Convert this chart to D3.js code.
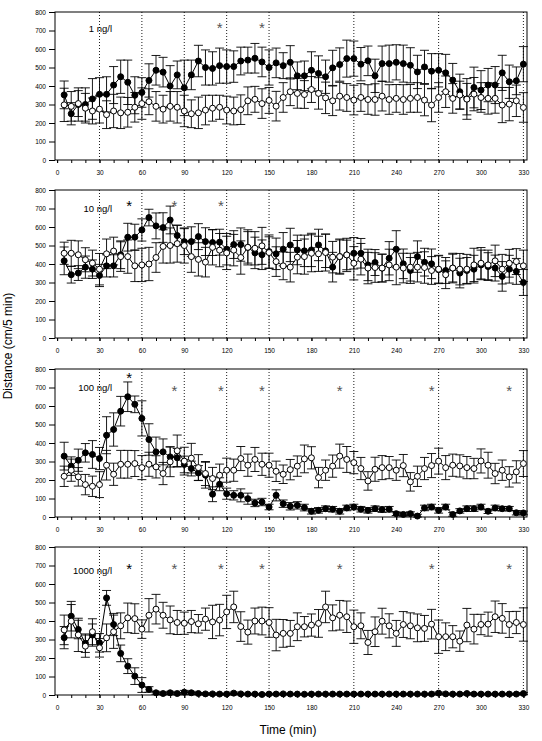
<!DOCTYPE html>
<html>
<head>
<meta charset="utf-8">
<script src="https://cdn.jsdelivr.net/npm/d3@7"></script>
<style>
  body { margin: 0; background: #fff; }
  svg { display: block; font-family: "Liberation Sans", Arial, sans-serif; }
</style>
</head>
<body>
<div class="chart-area"></div>
<script>
// sampling times (min)
const times = [
  5, 10, 15, 20, 25, 30, 35, 40, 45, 50, 55, 60, 65, 70, 75, 80, 85, 90,
  95, 100, 105, 110, 115, 120, 125, 130, 135, 140, 145, 150, 155, 160, 165, 170,
  175, 180, 185, 190, 195, 200, 205, 210, 215, 220, 225, 230, 235, 240, 245, 250,
  255, 260, 265, 270, 275, 280, 285, 290, 295, 300, 305, 310, 315, 320, 325, 330
];

const majorTicks = [0, 30, 60, 90, 120, 150, 180, 210, 240, 270, 300, 330];
const yTicks = [0, 100, 200, 300, 400, 500, 600, 700, 800];
const dottedLines = [30, 60, 90, 120, 150, 210, 270, 330];

const doseLabels = ["1 ng/l", "10 ng/l", "100 ng/l", "1000 ng/l"];
const doseLabelY = [710, 700, 700, 670];

// exposed fish (filled circles), mean and error
const p1T = [352, 250, 300, 300, 330, 355, 355, 405, 450, 420, 350, 365, 430, 485, 475, 400, 460, 390,
  460, 535, 500, 495, 510, 505, 505, 535, 540, 550, 530, 500, 525, 510, 528, 455, 455, 485,
  468, 450, 498, 516, 548, 548, 518, 536, 455, 521, 521, 528, 521, 512, 476, 503, 480, 485,
  471, 432, 369, 330, 392, 378, 405, 405, 471, 423, 428, 518];
const p1TErr = [75, 60, 90, 90, 110, 90, 95, 100, 90, 120, 100, 80, 90, 80, 80, 110, 75, 150,
  80, 85, 95, 90, 95, 90, 85, 75, 70, 80, 80, 95, 80, 70, 90, 75, 80, 100,
  95, 90, 95, 90, 100, 95, 90, 80, 90, 95, 100, 95, 100, 95, 90, 90, 95, 90,
  100, 90, 95, 110, 110, 105, 90, 100, 95, 90, 75, 95];
const p1C = [298, 290, 305, 280, 265, 275, 245, 265, 255, 258, 285, 305, 315, 290, 275, 290, 285, 265,
  250, 255, 270, 280, 285, 270, 265, 272, 320, 328, 305, 322, 291, 338, 369, 360, 354, 381,
  360, 336, 320, 345, 338, 324, 338, 327, 327, 345, 327, 333, 327, 333, 338, 324, 297, 338,
  369, 333, 351, 329, 356, 338, 333, 333, 297, 302, 320, 284];
const p1CErr = [90, 80, 70, 80, 70, 75, 75, 90, 85, 80, 80, 85, 70, 80, 75, 80, 85, 85,
  75, 85, 80, 70, 65, 75, 75, 80, 75, 70, 80, 70, 80, 80, 75, 80, 75, 70,
  85, 85, 80, 75, 75, 80, 75, 80, 85, 80, 80, 75, 80, 75, 80, 85, 90, 80,
  85, 80, 75, 85, 90, 80, 85, 80, 95, 90, 85, 80];

const p2T = [417, 342, 351, 383, 372, 338, 390, 390, 450, 545, 545, 584, 651, 606, 597, 638, 554, 521,
  521, 548, 521, 516, 518, 480, 505, 505, 490, 460, 450, 467, 455, 480, 503, 476, 471, 476,
  503, 471, 383, 440, 449, 458, 458, 395, 408, 378, 431, 480, 401, 365, 440, 410, 401, 369,
  365, 378, 351, 365, 372, 395, 386, 378, 333, 372, 360, 300];
const p2TErr = [75, 45, 40, 60, 50, 60, 60, 60, 75, 75, 70, 60, 45, 70, 80, 75, 55, 70,
  80, 70, 75, 70, 70, 85, 75, 90, 85, 85, 80, 90, 85, 90, 90, 80, 85, 90,
  85, 90, 80, 90, 80, 85, 80, 85, 70, 75, 90, 100, 80, 70, 85, 75, 80, 75,
  70, 75, 80, 70, 75, 80, 75, 70, 80, 75, 70, 70];
const p2C = [458, 458, 450, 423, 405, 372, 455, 470, 440, 440, 390, 395, 400, 435, 495, 500, 510, 500,
  440, 425, 410, 490, 475, 460, 475, 435, 490, 485, 498, 462, 413, 390, 383, 437, 440, 458,
  455, 462, 437, 440, 449, 404, 426, 378, 381, 378, 395, 383, 378, 383, 383, 381, 365, 372,
  342, 378, 372, 372, 395, 404, 395, 417, 372, 404, 413, 390];
const p2CErr = [60, 70, 75, 65, 70, 85, 80, 75, 80, 90, 85, 90, 90, 80, 90, 95, 100, 95,
  85, 90, 80, 95, 90, 90, 85, 90, 95, 90, 100, 85, 80, 75, 80, 90, 95, 100,
  95, 100, 85, 95, 90, 90, 85, 85, 80, 75, 85, 95, 80, 75, 80, 85, 75, 75,
  75, 80, 85, 80, 90, 85, 80, 85, 80, 75, 70, 85];

const p3T = [329, 275, 307, 347, 338, 316, 442, 473, 572, 650, 609, 533, 419, 352, 352, 325, 320, 284,
  262, 238, 226, 123, 177, 126, 117, 117, 99, 76, 81, 54, 117, 72, 58, 63, 51, 31,
  36, 45, 42, 31, 49, 54, 42, 36, 45, 40, 42, 18, 14, 18, 5, 49, 54, 36,
  54, 14, 33, 45, 45, 54, 31, 49, 45, 45, 23, 22];
const p3TErr = [75, 50, 60, 50, 75, 60, 100, 90, 80, 80, 45, 95, 85, 80, 70, 55, 50, 45,
  40, 40, 70, 40, 35, 30, 25, 35, 30, 20, 20, 15, 30, 20, 20, 20, 18, 15,
  15, 15, 15, 15, 15, 15, 15, 15, 15, 15, 15, 10, 10, 10, 10, 15, 15, 15,
  15, 10, 12, 15, 15, 15, 12, 15, 12, 12, 12, 10];
const p3C = [220, 253, 217, 175, 166, 175, 280, 231, 285, 285, 289, 267, 285, 271, 235, 298, 358, 302,
  318, 267, 235, 208, 226, 253, 253, 316, 280, 311, 285, 280, 247, 231, 256, 275, 314, 320,
  213, 253, 275, 329, 311, 294, 262, 195, 258, 267, 267, 253, 278, 190, 220, 262, 278, 302,
  267, 280, 276, 267, 262, 303, 280, 235, 253, 217, 244, 289];
const p3CErr = [55, 60, 50, 55, 55, 70, 80, 60, 75, 75, 70, 65, 65, 60, 60, 80, 85, 75,
  80, 70, 65, 60, 60, 65, 60, 65, 60, 65, 60, 65, 55, 50, 55, 55, 75, 60,
  55, 55, 60, 65, 70, 60, 60, 50, 65, 65, 60, 55, 60, 50, 55, 60, 65, 70,
  65, 60, 60, 60, 55, 65, 70, 55, 55, 55, 60, 70];

const p4T = [310, 426, 354, 280, 324, 282, 525, 381, 225, 156, 102, 54, 30, 12, 8, 12, 8, 15,
  12, 8, 6, 6, 5, 5, 10, 6, 5, 5, 3, 5, 5, 6, 5, 5, 4, 5,
  5, 5, 5, 5, 5, 5, 5, 5, 5, 5, 5, 5, 5, 5, 5, 5, 5, 10,
  6, 5, 5, 8, 5, 5, 5, 5, 5, 5, 5, 8];
const p4TErr = [60, 80, 50, 50, 60, 50, 40, 60, 45, 40, 45, 40, 15, 8, 6, 8, 6, 10,
  8, 5, 5, 5, 4, 4, 6, 4, 4, 4, 3, 4, 4, 4, 4, 3, 4, 4,
  4, 4, 3, 4, 4, 4, 4, 3, 4, 4, 4, 3, 4, 4, 3, 4, 4, 6,
  4, 4, 3, 5, 4, 4, 4, 4, 3, 4, 4, 5];
const p4C = [352, 399, 325, 264, 342, 255, 309, 342, 374, 417, 413, 356, 431, 464, 431, 406, 392, 388,
  397, 385, 410, 395, 405, 449, 476, 370, 340, 400, 400, 392, 324, 333, 333, 369, 369, 378,
  387, 476, 417, 431, 423, 369, 374, 284, 342, 399, 374, 333, 381, 374, 363, 360, 383, 315,
  315, 315, 291, 378, 356, 381, 383, 423, 414, 381, 392, 381];
const p4CErr = [80, 90, 90, 60, 70, 50, 75, 90, 70, 80, 80, 50, 90, 80, 70, 75, 65, 60,
  60, 50, 60, 90, 85, 90, 85, 80, 65, 70, 75, 80, 85, 75, 70, 75, 55, 60,
  75, 85, 70, 80, 85, 90, 70, 65, 80, 70, 65, 70, 70, 70, 75, 70, 80, 90,
  75, 60, 55, 90, 80, 55, 65, 85, 80, 70, 60, 90];

// significance asterisks: time and height per panel
const p1Stars = [[115, 730], [145, 730]];
const p2Stars = [[51, 728], [83, 728], [116, 728]];
const p3Stars = [[51, 765], [83, 695], [116, 695], [145, 695], [200, 695], [265, 695], [320, 695]];
const p4Stars = [[51, 700], [83, 700], [116, 700], [145, 700], [200, 700], [265, 700], [320, 700]];

const panels = [
  { label: doseLabels[0], labelY: doseLabelY[0], treat: p1T, treatErr: p1TErr, ctrl: p1C, ctrlErr: p1CErr, stars: p1Stars },
  { label: doseLabels[1], labelY: doseLabelY[1], treat: p2T, treatErr: p2TErr, ctrl: p2C, ctrlErr: p2CErr, stars: p2Stars },
  { label: doseLabels[2], labelY: doseLabelY[2], treat: p3T, treatErr: p3TErr, ctrl: p3C, ctrlErr: p3CErr, stars: p3Stars },
  { label: doseLabels[3], labelY: doseLabelY[3], treat: p4T, treatErr: p4TErr, ctrl: p4C, ctrlErr: p4CErr, stars: p4Stars }
];

const width = 542, height = 741;
const panelTops = [12, 190, 369, 547],
  panelH = 148,
  boxLeft = 55,
  boxRight = 527,
  capW = 4.5,
  r = 3;

const svg = d3.select(".chart-area")
  .append("svg")
  .attr("width", width)
  .attr("height", height);

const x = d3.scaleLinear().domain([0, 330]).range([57.1, 523.4]);

panels.forEach((p, i) => {
  const top = panelTops[i];
  const y = d3.scaleLinear().domain([0, 800]).range([top + panelH, top]);
  const g = svg.append("g");

  // axes
  g.append("g")
    .attr("transform", `translate(0,${top + panelH})`)
    .call(d3.axisBottom(x).tickValues(d3.range(0, 331, 10)).tickSize(3).tickFormat(""))
    .call(a => a.select(".domain").remove());
  g.append("g")
    .attr("transform", `translate(0,${top + panelH})`)
    .call(d3.axisBottom(x).tickValues(majorTicks).tickSize(3).tickPadding(7))
    .call(a => a.select(".domain").remove())
    .selectAll("text").attr("font-size", 6.5).attr("font-family", "Liberation Sans, Arial, sans-serif");
  g.append("g")
    .attr("transform", `translate(${boxLeft},0)`)
    .call(d3.axisLeft(y).tickValues(yTicks).tickSize(6).tickPadding(3))
    .call(a => a.select(".domain").remove())
    .selectAll("text").attr("font-size", 6.5).attr("font-family", "Liberation Sans, Arial, sans-serif");

  g.append("rect")
    .attr("x", boxLeft).attr("y", top)
    .attr("width", boxRight - boxLeft).attr("height", panelH)
    .attr("fill", "none").attr("stroke", "#000").attr("stroke-width", 1);

  // dotted time markers
  g.selectAll(".vline").data(dottedLines).enter().append("line")
    .attr("x1", d => x(d)).attr("x2", d => x(d))
    .attr("y1", top).attr("y2", top + panelH)
    .attr("stroke", "#000").attr("stroke-width", 0.9)
    .attr("stroke-dasharray", "1,2");

  // dose label
  g.append("text")
    .attr("x", 112).attr("y", y(p.labelY))
    .attr("dy", "0.35em")
    .attr("text-anchor", "end")
    .attr("font-size", 9.5)
    .text(p.label);

  // asterisks
  g.selectAll(".star").data(p.stars).enter().append("text")
    .attr("x", d => x(d[0])).attr("y", d => y(d[1]) + 8)
    .attr("text-anchor", "middle")
    .attr("font-size", 15)
    .attr("fill", (d, j) => (j === 0 && i > 0 ? "#000" : "#555"))
    .text("*");

  const series = [
    { vals: p.treat, err: p.treatErr, fill: "#000" },
    { vals: p.ctrl, err: p.ctrlErr, fill: "#fff" }
  ];

  series.forEach(s => {
    const pts = times.map((t, j) => ({ t, v: s.vals[j], e: s.err[j] }));

    const eb = g.append("g").attr("stroke", "#000").attr("stroke-width", 0.9);
    eb.selectAll("line.v").data(pts).enter().append("line")
      .attr("x1", d => x(d.t)).attr("x2", d => x(d.t))
      .attr("y1", d => y(Math.max(0, d.v - d.e))).attr("y2", d => y(d.v + d.e));
    eb.selectAll("line.hi").data(pts).enter().append("line")
      .attr("x1", d => x(d.t) - capW).attr("x2", d => x(d.t) + capW)
      .attr("y1", d => y(d.v + d.e)).attr("y2", d => y(d.v + d.e));
    eb.selectAll("line.lo").data(pts).enter().append("line")
      .attr("x1", d => x(d.t) - capW).attr("x2", d => x(d.t) + capW)
      .attr("y1", d => y(Math.max(0, d.v - d.e))).attr("y2", d => y(Math.max(0, d.v - d.e)));
  });

  series.forEach(s => {
    const pts = times.map((t, j) => ({ t, v: s.vals[j] }));
    g.append("path")
      .datum(pts)
      .attr("fill", "none")
      .attr("stroke", "#000")
      .attr("stroke-width", 1)
      .attr("d", d3.line().x(d => x(d.t)).y(d => y(d.v)));
    g.selectAll(null).data(pts).enter().append("circle")
      .attr("cx", d => x(d.t)).attr("cy", d => y(d.v))
      .attr("r", r)
      .attr("fill", s.fill)
      .attr("stroke", "#000")
      .attr("stroke-width", 1);
  });
});

svg.append("text")
  .attr("transform", "translate(12,346) rotate(-90)")
  .attr("text-anchor", "middle")
  .attr("font-size", 12)
  .text("Distance (cm/5 min)");

svg.append("text")
  .attr("x", 288).attr("y", 734)
  .attr("text-anchor", "middle")
  .attr("font-size", 12)
  .text("Time (min)");
</script>
</body>
</html>
